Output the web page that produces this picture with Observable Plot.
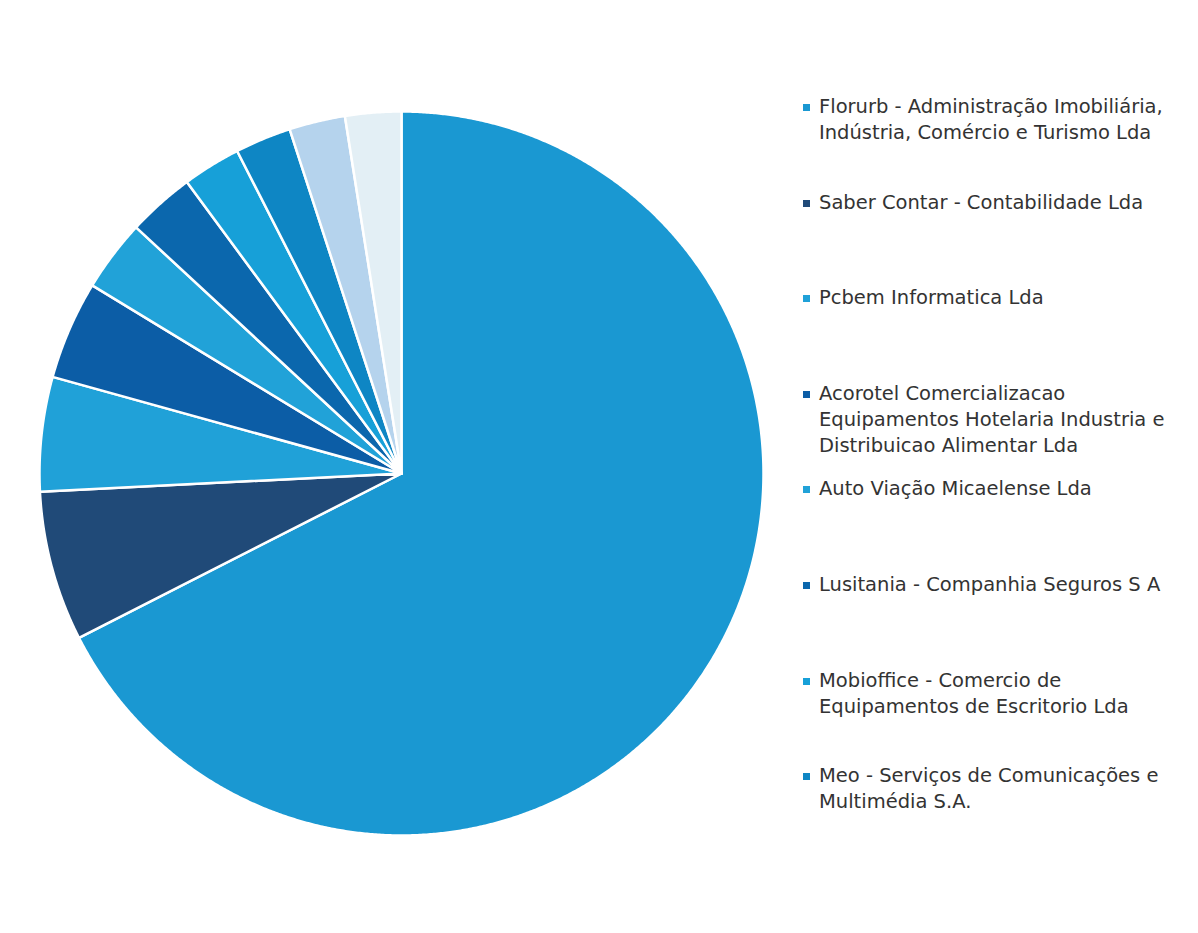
<!DOCTYPE html>
<html>
<head>
<meta charset="utf-8">
<script src="https://cdn.jsdelivr.net/npm/d3@7"></script>
<script src="https://cdn.jsdelivr.net/npm/@observablehq/plot@0.6"></script>
<style>
  html, body { margin: 0; padding: 0; background: #fff; }
  #wrap { position: relative; width: 1198px; height: 933px; overflow: hidden; }
  #legend { position: absolute; left: 803px; top: 0; width: 395px; font-family: "DejaVu Sans", Verdana, sans-serif; font-size: 19.5px; color: #333; }
  .item { position: absolute; left: 0; display: flex; align-items: flex-start; }
  .sw { width: 7px; height: 7px; margin-top: 10px; margin-right: 9px; flex: none; }
  .lbl { white-space: pre; line-height: 26px; }
</style>
</head>
<body>
<div id="wrap"><div id="chart"></div><div id="legend"></div></div>
<script>
const categories = [
  "Florurb - Administração Imobiliária,\nIndústria, Comércio e Turismo Lda",
  "Saber Contar - Contabilidade Lda",
  "Pcbem Informatica Lda",
  "Acorotel Comercializacao\nEquipamentos Hotelaria Industria e\nDistribuicao Alimentar Lda",
  "Auto Viação Micaelense Lda",
  "Lusitania - Companhia Seguros S A",
  "Mobioffice - Comercio de\nEquipamentos de Escritorio Lda",
  "Meo - Serviços de Comunicações e\nMultimédia S.A.",
  "(sem legenda 9)",
  "(sem legenda 10)"
];
const shares = [67.5, 6.7, 5.1, 4.4, 3.2, 3.0, 2.6, 2.5, 2.5, 2.5];
const colors = ["#1a98d2", "#204a78", "#20a1d8", "#0c5da6", "#21a2d8", "#0b67ad", "#17a0d8", "#0e86c4", "#b5d3ed", "#e3eff5"];
const legendShown = 8;

const pie = d3.pie().sort(null).value(d => d.value)(categories.map((c, i) => ({name: c, value: shares[i]})));
const pts = [];
pie.forEach(s => {
  const name = s.data.name;
  pts.push({name, x: 0, y: 0});
  const n = Math.max(4, Math.ceil((s.endAngle - s.startAngle) / 0.005));
  for (let k = 0; k <= n; k++) {
    const a = s.startAngle + (s.endAngle - s.startAngle) * k / n;
    pts.push({name, x: Math.sin(a), y: Math.cos(a)});
  }
  pts.push({name, x: 0, y: 0});
});

const W = 1198, H = 933, cx = 401, cy = 473, R = 362;
const chart = Plot.plot({
  width: W, height: H,
  marginLeft: cx - R, marginRight: W - (cx + R),
  marginTop: cy - R, marginBottom: H - (cy + R),
  x: {domain: [-1, 1], axis: null},
  y: {domain: [-1, 1], axis: null},
  color: {domain: categories, range: colors},
  style: {background: "#fff"},
  marks: [
    Plot.line(pts, {x: "x", y: "y", z: "name", fill: "name", stroke: "white", strokeWidth: 2.5, strokeLinejoin: "round"})
  ]
});
document.getElementById("chart").appendChild(chart);

const legend = document.getElementById("legend");
categories.slice(0, legendShown).forEach((c, i) => {
  const item = document.createElement("div");
  item.className = "item";
  item.style.top = (94 + i * 95.6) + "px";
  const sw = document.createElement("span");
  sw.className = "sw";
  sw.style.background = colors[i];
  const lbl = document.createElement("span");
  lbl.className = "lbl";
  lbl.textContent = c;
  item.appendChild(sw); item.appendChild(lbl);
  legend.appendChild(item);
});
</script>
</body>
</html>
